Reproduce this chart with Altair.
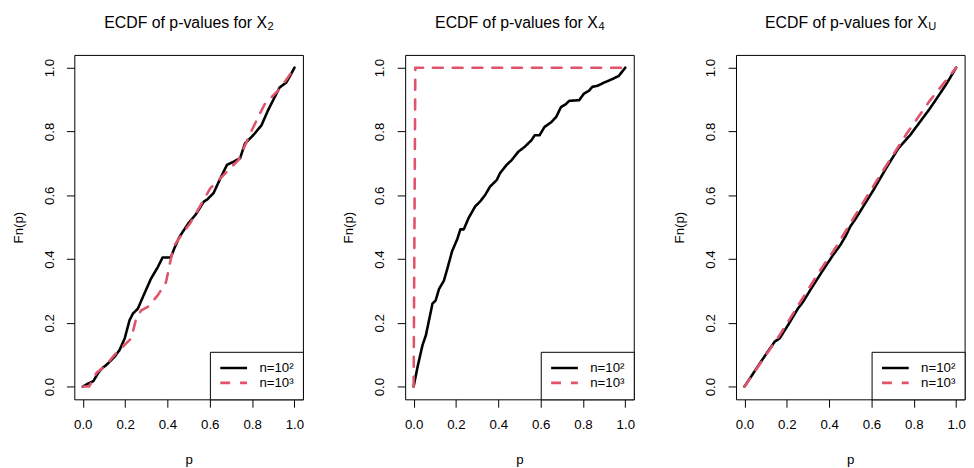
import altair as alt
import pandas as pd

FONT = "Liberation Sans"
BLACK = "#000000"
RED = "#DF536B"
SERIES = ["n=10²", "n=10³"]
TICKS = [0.0, 0.2, 0.4, 0.6, 0.8, 1.0]

TITLE_MAIN = "ECDF of p-values for X"
TITLE_SUBS = ["2", "4", "U"]

# Panel 1 (X_2)
P1_A_P = [0.0, 0.027, 0.05, 0.073, 0.089, 0.112, 0.151, 0.174, 0.198, 0.221, 0.237, 0.26,
          0.284, 0.322, 0.354, 0.377, 0.416, 0.431, 0.455, 0.47, 0.501, 0.533, 0.572, 0.587,
          0.618, 0.65, 0.681, 0.712, 0.743, 0.766, 0.805, 0.844, 0.875, 0.906, 0.93, 0.961,
          0.98, 1.0]
P1_A_F = [0.0, 0.01, 0.017, 0.043, 0.056, 0.068, 0.094, 0.115, 0.151, 0.208, 0.229, 0.244,
          0.281, 0.338, 0.374, 0.405, 0.405, 0.431, 0.467, 0.483, 0.514, 0.539, 0.58, 0.586,
          0.607, 0.653, 0.695, 0.705, 0.716, 0.762, 0.788, 0.819, 0.866, 0.907, 0.938, 0.953,
          0.975, 1.0]
P1_B_P = [0.0, 0.03, 0.065, 0.104, 0.151, 0.206, 0.229, 0.252, 0.276, 0.307, 0.354, 0.393,
          0.416, 0.431, 0.463, 0.509, 0.603, 0.681, 0.735, 0.798, 0.836, 0.86, 0.93, 0.969, 1.0]
P1_B_F = [0.0, 0.0, 0.043, 0.063, 0.1, 0.136, 0.151, 0.213, 0.239, 0.25, 0.286, 0.327,
          0.4, 0.441, 0.472, 0.514, 0.622, 0.674, 0.71, 0.803, 0.855, 0.886, 0.933, 0.969, 1.0]

# Panel 2 (X_4)
P2_A_P = [0.0, 0.019, 0.042, 0.058, 0.089, 0.104, 0.12, 0.143, 0.159, 0.182, 0.206, 0.221,
          0.237, 0.26, 0.291, 0.315, 0.338, 0.361, 0.393, 0.408, 0.439, 0.463, 0.494, 0.525,
          0.556, 0.572, 0.595, 0.618, 0.65, 0.673, 0.696, 0.72, 0.735, 0.782, 0.805, 0.829,
          0.844, 0.868, 0.899, 0.938, 0.969, 1.0]
P2_A_F = [0.0, 0.063, 0.13, 0.161, 0.26, 0.27, 0.306, 0.332, 0.369, 0.425, 0.462, 0.493,
          0.493, 0.529, 0.565, 0.581, 0.601, 0.627, 0.648, 0.669, 0.695, 0.71, 0.736, 0.752,
          0.772, 0.788, 0.788, 0.814, 0.829, 0.845, 0.876, 0.886, 0.896, 0.898, 0.919, 0.928,
          0.94, 0.943, 0.953, 0.964, 0.974, 1.0]
P2_B_P = [0.0, 0.008, 1.0]
P2_B_F = [0.0, 1.0, 1.0]

# Panel 3 (X_U)
P3_A_P = [0.0, 0.089, 0.143, 0.166, 0.206, 0.252, 0.276, 0.315, 0.369, 0.416, 0.455, 0.478,
          0.501, 0.525, 0.61, 0.673, 0.727, 0.782, 0.828, 0.875, 0.922, 0.953, 1.0]
P3_A_F = [0.0, 0.089, 0.141, 0.151, 0.193, 0.244, 0.265, 0.307, 0.363, 0.41, 0.446, 0.472,
          0.503, 0.526, 0.617, 0.689, 0.747, 0.788, 0.829, 0.871, 0.917, 0.948, 1.0]
P3_B_P = [0.0, 0.166, 0.346, 0.431, 0.525, 0.642, 0.766, 0.875, 1.0]
P3_B_F = [0.0, 0.161, 0.353, 0.436, 0.539, 0.664, 0.793, 0.896, 1.0]

PANELS = [
    (P1_A_P, P1_A_F, P1_B_P, P1_B_F),
    (P2_A_P, P2_A_F, P2_B_P, P2_B_F),
    (P3_A_P, P3_A_F, P3_B_P, P3_B_F),
]

W, H = 231, 348
TITLE_DX = [79.2, 79.2, 78.2]
DOM = [-0.04, 1.04]


def legend():
    return alt.Legend(orient="bottom-right", offset=0, title=None,
                      strokeColor="black", fillColor="white",
                      padding=9, cornerRadius=0, symbolType="stroke",
                      symbolSize=729, symbolStrokeWidth=2.6,
                      symbolOffset=0, labelOffset=11, clipHeight=14.8,
                      rowPadding=0, labelFontSize=13.4,
                      labelFont=FONT, labelColor="black")


def make_panel(idx):
    ap, af, bp, bf = PANELS[idx]
    rows = []
    for k, (p, f) in enumerate(zip(ap, af)):
        rows.append({"p": p, "F": f, "series": SERIES[0], "k": k})
    for k, (p, f) in enumerate(zip(bp, bf)):
        rows.append({"p": p, "F": f, "series": SERIES[1], "k": k})
    df = pd.DataFrame(rows)

    lines = alt.Chart(df).mark_line(strokeWidth=2.6, strokeCap="round", strokeJoin="round").encode(
        x=alt.X("p:Q", scale=alt.Scale(domain=DOM, nice=False, zero=False),
                axis=alt.Axis(values=TICKS, format=".1f", title="p", tickSize=8,
                              labelPadding=17.5, labelBaseline="middle", labelAngle=0,
                              labelFlush=False, labelOverlap=False,
                              titleX=W / 2, titleY=64.5, titleBaseline="alphabetic",
                              titleAlign="center")),
        y=alt.Y("F:Q", scale=alt.Scale(domain=DOM, nice=False, zero=False),
                axis=alt.Axis(values=TICKS, format=".1f", title="Fn(p)", tickSize=8,
                              labelAngle=270, labelAlign="center", labelBaseline="middle",
                              labelPadding=17.4, labelOverlap=False, labelFlush=False,
                              titleAngle=270, titleX=-56.7, titleY=H / 2,
                              titleAlign="center", titleBaseline="middle")),
        order="k:Q",
        color=alt.Color("series:N", scale=alt.Scale(domain=SERIES, range=[BLACK, RED]),
                        legend=legend()),
        strokeDash=alt.StrokeDash("series:N",
                                  scale=alt.Scale(domain=SERIES, range=[[1, 0], [10, 10]]),
                                  legend=legend()),
    )

    tdf = pd.DataFrame({"main": [TITLE_MAIN], "sub": [TITLE_SUBS[idx]]})
    tx = W / 2 + TITLE_DX[idx]
    title_main = alt.Chart(tdf).mark_text(align="right", baseline="alphabetic", fontSize=16,
                                          font=FONT, color="black").encode(
        text="main:N", x=alt.value(tx), y=alt.value(-27.7))
    title_sub = alt.Chart(tdf).mark_text(align="left", baseline="alphabetic", fontSize=11.2,
                                         font=FONT, color="black").encode(
        text="sub:N", x=alt.value(tx + 0.6), y=alt.value(-25.5))

    return alt.layer(lines, title_main, title_sub).properties(width=W, height=H)


chart = alt.hconcat(make_panel(0), make_panel(1), make_panel(2), spacing=103.3, bounds="flush")
chart = chart.resolve_legend(color="independent", strokeDash="independent").properties(
    padding={"left": 2, "top": 3, "right": 0, "bottom": 0}
).configure_view(stroke="black", strokeWidth=1).configure_axis(
    domain=False, grid=False, tickColor="black", tickWidth=1,
    labelFont=FONT, labelFontSize=13.4, labelColor="black",
    titleFont=FONT, titleFontSize=13.4, titleColor="black", titleFontWeight="normal"
)

chart.save("out.html", embed_options={"renderer": "svg", "actions": False})
